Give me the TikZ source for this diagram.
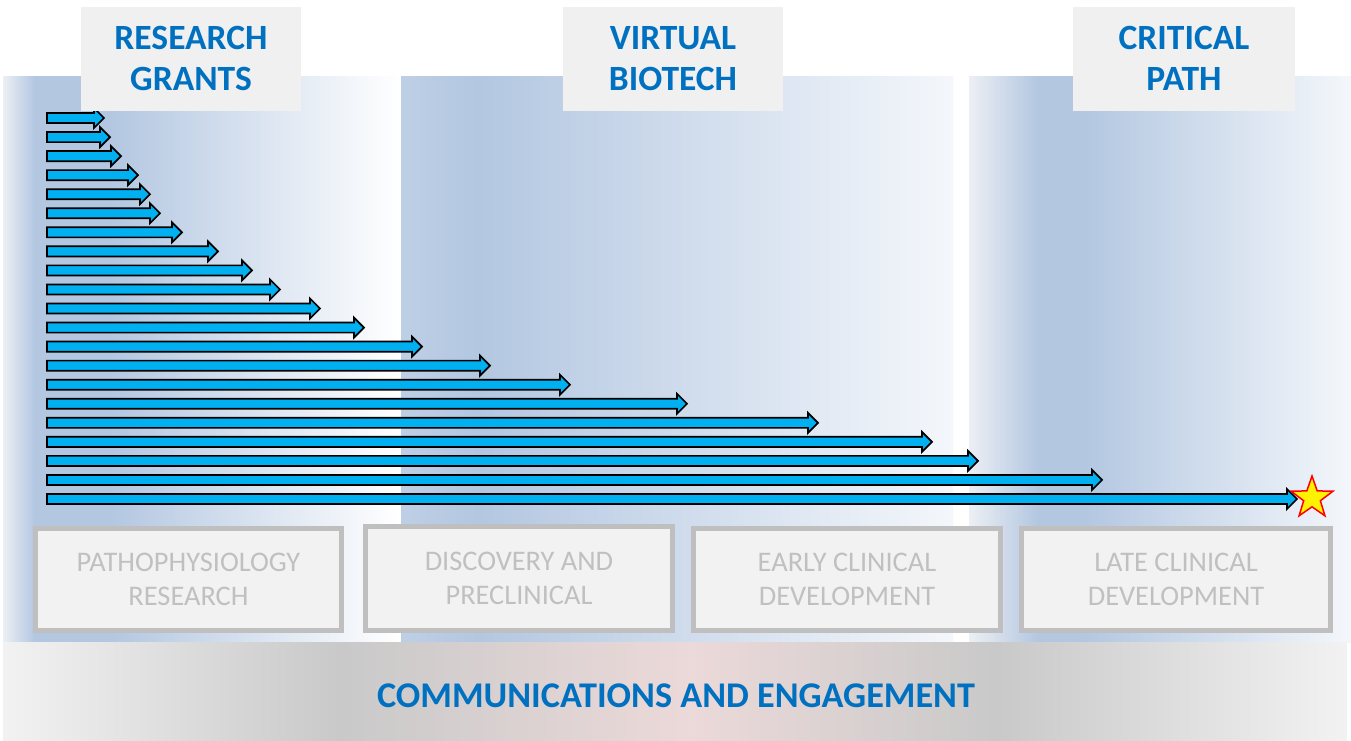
\documentclass[tikz,border=0pt]{standalone}
\usepackage{fontspec}
\setmainfont{Carlito}
\usetikzlibrary{shapes.arrows,shapes.geometric}

\definecolor{titleblue}{HTML}{0070C0}
\definecolor{arrowblue}{HTML}{00B0F0}
\definecolor{headbg}{HTML}{F0F0F0}
\definecolor{stagebg}{HTML}{F2F2F2}
\definecolor{stageline}{HTML}{BFBFBF}
\definecolor{stagetext}{HTML}{C0C0C0}
\definecolor{panelblue}{HTML}{B3C7E1}
\definecolor{panelgray}{HTML}{ECEFF4}
\definecolor{panelstart}{HTML}{BECFE5}
\definecolor{panelend}{HTML}{F4F7FB}
\definecolor{barlight}{HTML}{F2F2F2}
\definecolor{bardark}{HTML}{C9C9C9}
\definecolor{barpink}{HTML}{ECD9D9}

% panel and bar shadings (25bp..75bp = left..right edge)
\pgfdeclarehorizontalshading{grantpanel}{100bp}{color(0bp)=(panelgray); color(25bp)=(panelgray);
  color(29bp)=(panelblue); color(38.5bp)=(panelblue); color(75bp)=(white); color(100bp)=(white)}
\pgfdeclarehorizontalshading{biotechpanel}{100bp}{color(0bp)=(panelstart); color(25bp)=(panelstart);
  color(32bp)=(panelblue); color(75bp)=(panelend); color(100bp)=(panelend)}
\pgfdeclarehorizontalshading{pathpanel}{100bp}{color(0bp)=(panelgray); color(25bp)=(panelgray);
  color(34bp)=(panelblue); color(40bp)=(panelblue); color(75bp)=(panelend); color(100bp)=(panelend)}
\pgfdeclarehorizontalshading{commbar}{100bp}{color(0bp)=(barlight); color(25bp)=(barlight);
  color(37.5bp)=(bardark); color(50.6bp)=(barpink); color(62bp)=(bardark); color(75bp)=(barlight); color(100bp)=(barlight)}

\tikzset{
  header/.style={fill=headbg, inner sep=0pt, minimum width=220pt, minimum height=104pt,
    align=center, text=titleblue, font=\bfseries\fontsize{35.5}{41}\selectfont},
  stagebox/.style={draw=stageline, line width=5pt, fill=stagebg, inner sep=0pt,
    minimum height=102pt, align=center, text=stagetext, font=\fontsize{28.4}{34}\selectfont},
  flowarrow/.style={single arrow, draw=black, line width=1.7pt, fill=arrowblue,
    inner xsep=0pt, inner ysep=4.2pt, outer sep=0pt, single arrow head extend=5pt,
    single arrow tip angle=90, anchor=tail}
}

\begin{document}
\begin{tikzpicture}[x=1pt, y=-1pt]
\useasboundingbox (0,0) rectangle (1351,740);
\fill[white] (0,0) rectangle (1351,740);

% background panels
\shade[shading=grantpanel] (3,76) rectangle (400,642);
\shade[shading=biotechpanel] (401,76) rectangle (953,642);
\shade[shading=pathpanel] (969,76) rectangle (1351,642);

% arrows
\foreach \tip [count=\i, evaluate=\i as \y using 118+19.05*(\i-1), evaluate=\tip as \len using \tip-47]
  in {104,110,121,138,150,160,182,218,252,280,320,364,422,490,570,687,818,932,978,1102,1297}
  \node[flowarrow, minimum height=\len pt] (arr\i) at (47,\y) {};

\node[star, star points=5, star point ratio=2.5, minimum size=44pt, inner sep=0pt,
  fill=yellow, draw=red, line width=1.5pt] (goal) at (1312,498) {};

% stages
\node[stagebox, minimum width=306pt] (patho) at (188.5,579.5) {PATHOPHYSIOLOGY\\RESEARCH};
\node[stagebox, minimum width=307pt, minimum height=104pt] (disc) at (519,578.5) {DISCOVERY AND\\PRECLINICAL};
\node[stagebox, minimum width=307pt] (early) at (847,579.5) {EARLY CLINICAL\\DEVELOPMENT};
\node[stagebox, minimum width=309pt] (late) at (1176,579.5) {LATE CLINICAL\\DEVELOPMENT};

% bottom bar
\shade[shading=commbar] (3,642) rectangle (1347,740);
\node[text=titleblue, font=\bfseries\fontsize{36.2}{42}\selectfont] (comm) at (676,695.5) {COMMUNICATIONS AND ENGAGEMENT};

% headers
\node[header] (grants) at (191,58.5) {RESEARCH\\GRANTS};
\node[header] (biotech) at (673,59) {VIRTUAL\\BIOTECH};
\node[header, minimum width=222pt] (critical) at (1184,58.5) {CRITICAL\\PATH};
\end{tikzpicture}
\end{document}
